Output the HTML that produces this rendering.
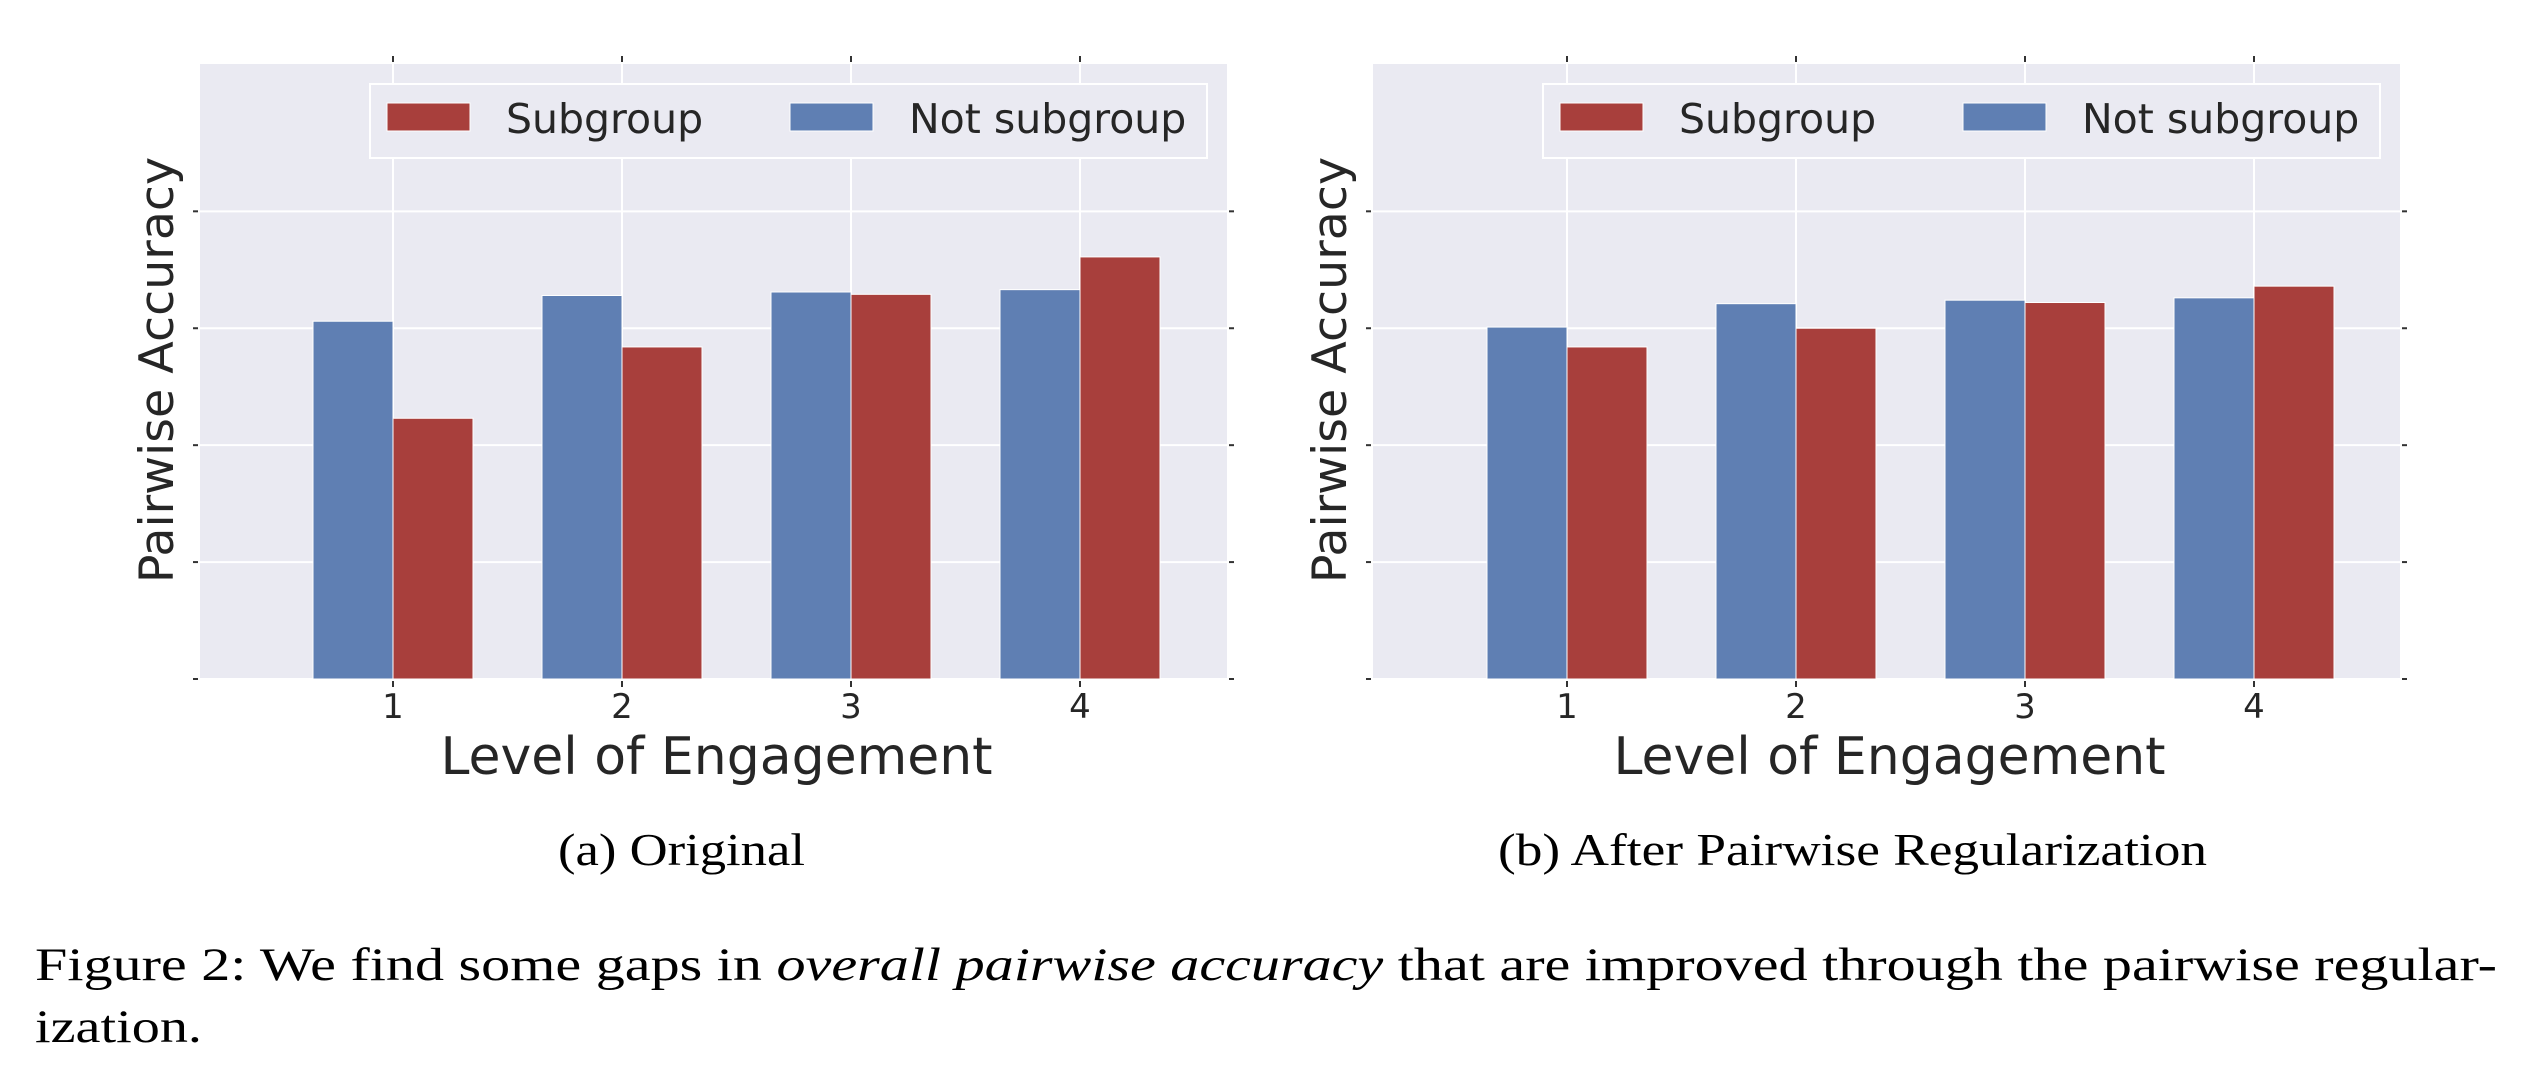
<!DOCTYPE html>
<html><head><meta charset="utf-8"><style>
html,body{margin:0;padding:0;background:#fff;}
svg{display:block;}
.dv{font-family:"DejaVu Sans","Liberation Sans",sans-serif;fill:#262626;}
.sr{font-family:"Liberation Serif",serif;fill:#000;}
</style></head><body>
<svg id="fig" width="2548" height="1082" viewBox="0 0 2548 1082" xmlns="http://www.w3.org/2000/svg">
<g id="panelA"></g>
<g id="panelB"></g>
<text class="sr" x="558" y="865" font-size="46" textLength="247" lengthAdjust="spacingAndGlyphs">(a) Original</text>
<text class="sr" x="1498" y="865" font-size="46" textLength="709" lengthAdjust="spacingAndGlyphs">(b) After Pairwise Regularization</text>
<text class="sr" x="35" y="980" font-size="47" textLength="2462" lengthAdjust="spacingAndGlyphs">Figure 2:  We find some gaps in <tspan font-style="italic">overall pairwise accuracy</tspan> that are improved through the pairwise regular-</text>
<text class="sr" x="35" y="1042" font-size="47" textLength="167" lengthAdjust="spacingAndGlyphs">ization.</text>
</svg>
<script>
const categories = ["1","2","3","4"];
const originalNot = [3.06, 3.28, 3.31, 3.33];
const originalSub = [2.23, 2.84, 3.29, 3.61];
const regNot = [3.01, 3.21, 3.24, 3.26];
const regSub = [2.84, 3.00, 3.22, 3.36];
const yTicks = [0, 1, 2, 3, 4];
const yMax = 5.26;

const NS = "http://www.w3.org/2000/svg";
function mk(parent, tag, attrs) {
  const e = document.createElementNS(NS, tag);
  for (const k in attrs) e.setAttribute(k, attrs[k]);
  parent.appendChild(e);
  return e;
}
function drawPanel(g, left, right, tick1, notVals, subVals) {
  const top = 64, bottom = 679;
  const step = 229;
  const xs = i => tick1 + i * step;
  const ys = v => bottom - v / yMax * (bottom - top);
  const bw = 80;
  const bg = mk(g, "rect", {x:left, y:top, width:right-left, height:bottom-top, fill:"#eaeaf2"});
  
  
  yTicks.forEach(t => {
    const y = ys(t);
    const gl = mk(g, "line", {x1:left, x2:right, y1:y, y2:y, stroke:"#fff", "stroke-width":2});
    
    
    const tl = mk(g, "line", {x1:left-7, x2:left-2, y1:y, y2:y, stroke:"#333", "stroke-width":2});
    
    
    const tr = mk(g, "line", {x1:right+2, x2:right+7, y1:y, y2:y, stroke:"#333", "stroke-width":2});
    
    
  });
  categories.forEach((c, i) => {
    const x = xs(i);
    const gl = mk(g, "line", {x1:x, x2:x, y1:top, y2:bottom, stroke:"#fff", "stroke-width":2});
    
    
    const tt = mk(g, "line", {x1:x, x2:x, y1:top-8, y2:top-2, stroke:"#333", "stroke-width":2});
    
    
    const tb = mk(g, "line", {x1:x, x2:x, y1:bottom+2, y2:bottom+8, stroke:"#333", "stroke-width":2});
    
    
    const lb = mk(g, "text", {x:x, y:718, "text-anchor":"middle", "font-size":34, class:"dv"});
    lb.textContent = c;
    
    
  });
  categories.forEach((c, i) => {
    const x = xs(i);
    const b1 = mk(g, "rect", {x:x-bw, y:ys(notVals[i]), width:bw, height:bottom-ys(notVals[i]), fill:"#5f7fb3", stroke:"#fff", "stroke-width":1});
    
    
    const b2 = mk(g, "rect", {x:x, y:ys(subVals[i]), width:bw, height:bottom-ys(subVals[i]), fill:"#a83f3c", stroke:"#fff", "stroke-width":1});
    
    
  });
  const lx = left + 170, lw = 837;
  const lg = mk(g, "g", {});
  
  
  mk(lg, "rect", {x:lx, y:84, width:lw, height:74, fill:"#eaeaf2", stroke:"#fff", "stroke-width":2});
  const s1 = mk(lg, "rect", {x:lx+17, y:103, width:83, height:28, fill:"#a83f3c", stroke:"#fff", "stroke-width":1});
  
  
  const t1 = mk(lg, "text", {x:lx+136, y:133, "font-size":41, class:"dv"});
  t1.textContent = "Subgroup";
  
  
  const s2 = mk(lg, "rect", {x:lx+420, y:103, width:83, height:28, fill:"#5f7fb3", stroke:"#fff", "stroke-width":1});
  
  
  const t2 = mk(lg, "text", {x:lx+539, y:133, "font-size":41, class:"dv"});
  t2.textContent = "Not subgroup";
  
  
  const xt = mk(g, "text", {x:(left+right)/2 + 3, y:774, "text-anchor":"middle", "font-size":52, class:"dv"});
  xt.textContent = "Level of Engagement";
  
  
  const yx = left - 27, yy = 370;
  const yt = mk(g, "text", {x:yx, y:yy, "text-anchor":"middle", "font-size":47.5, class:"dv", transform:"rotate(-90 " + yx + " " + yy + ")"});
  yt.textContent = "Pairwise Accuracy";
  
  
}
drawPanel(document.getElementById("panelA"), 200, 1227, 393, originalNot, originalSub);
drawPanel(document.getElementById("panelB"), 1373, 2400, 1567, regNot, regSub);
</script>
</body></html>
